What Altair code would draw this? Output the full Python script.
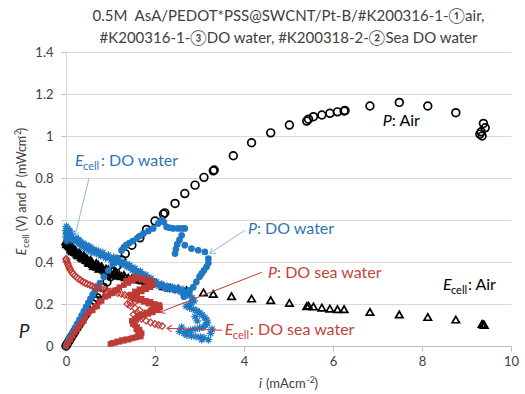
import altair as alt
import pandas as pd

FONT = "Lato"
BLUE = "#1F78C4"
BLUE_TXT = "#2E75B6"
BLUE_LINE = "#8DB8E2"
RED = "#BE3A34"
RED_TXT = "#C0443C"
BLACK = "#000000"
GRAY_TXT = "#404040"

title_lines = ["0.5M\u00a0 AsA/PEDOT*PSS@SWCNT/Pt-B/#K200316-1-\u2460air,",
               "#K200316-1-\u2462DO water, #K200318-2-\u2461Sea DO water"]
x_ticks = [0, 2, 4, 6, 8, 10]
y_ticks = [0, 0.2, 0.4, 0.6, 0.8, 1.0, 1.2, 1.4]

# P: Air  (i, P)
p_air = [(0,0),(0.02,0.007),(0.05,0.018),(0.08,0.028),(0.12,0.042),(0.16,0.056),(0.2,0.07),
         (0.25,0.087),(0.3,0.103),(0.35,0.12),(0.4,0.137),(0.45,0.153),(0.5,0.17),(0.55,0.186),
         (0.6,0.2),(0.65,0.215),(0.7,0.23),(0.76,0.25),(0.84,0.28),(0.92,0.305),(1.0,0.33),
         (1.07,0.355),(1.14,0.38),(1.25,0.41),(1.33,0.44),(1.48,0.48),(1.66,0.515),(1.81,0.555),
         (2.0,0.595),(2.19,0.628),(2.22,0.634),(2.45,0.679),(2.67,0.726),(2.9,0.766),(3.1,0.803),
         (3.31,0.834),(3.33,0.838),(3.76,0.906),(4.17,0.968),(4.6,1.015),(5.02,1.052),(5.41,1.071),
         (5.45,1.08),(5.56,1.092),(5.75,1.1),(5.93,1.108),(6.1,1.115),(6.25,1.119),(6.27,1.121),
         (6.83,1.143),(7.49,1.16),(8.13,1.143),(8.76,1.111),(9.38,1.06),(9.42,1.039),(9.33,1.02),
         (9.3,1.009),(9.35,1.0)]

# E_cell: Air  (i, E)
e_air = [(0,0.5),(0.01,0.497),(0.02,0.492),(0.03,0.5),(0.04,0.486),(0.06,0.48),(0.07,0.49),
         (0.08,0.475),(0.1,0.47),(0.13,0.463),(0.15,0.47),(0.16,0.456),(0.2,0.448),(0.22,0.455),
         (0.25,0.44),(0.3,0.432),(0.3,0.445),(0.35,0.424),(0.4,0.417),(0.42,0.425),(0.45,0.41),
         (0.5,0.403),(0.55,0.396),(0.55,0.41),(0.6,0.39),(0.65,0.384),(0.68,0.395),(0.7,0.378),
         (0.76,0.372),(0.8,0.38),(0.84,0.364),(0.92,0.356),(0.95,0.365),(1.0,0.35),(1.07,0.345),
         (1.1,0.35),(1.14,0.34),(1.2,0.34),(1.25,0.333),(1.33,0.328),(1.48,0.322),(1.66,0.316),
         (1.81,0.31),(1.93,0.305),(2.0,0.3),(2.19,0.285),(2.34,0.278),(2.52,0.272),(2.71,0.265),
         (3.09,0.255),(3.31,0.248),(3.72,0.237),(4.17,0.226),(4.6,0.218),(5.02,0.205),(5.41,0.19),
         (5.45,0.192),(5.56,0.188),(5.75,0.183),(5.93,0.178),(6.1,0.175),(6.25,0.175),(6.83,0.162),
         (7.49,0.15),(8.13,0.138),(8.76,0.126),(9.35,0.105),(9.38,0.103),(9.4,0.1),
         (0.015,0.485),(0.05,0.495),(0.09,0.482),(0.11,0.46),(0.14,0.452),(0.18,0.462),
         (0.23,0.445),(0.27,0.432),(0.32,0.438),(0.37,0.42),(0.39,0.43),(0.47,0.418),(0.52,0.395),
         (0.58,0.403),(0.62,0.38),(0.72,0.388),(0.74,0.368),(0.82,0.37),(0.88,0.358),(0.9,0.368),
         (0.98,0.355),(1.03,0.34),(1.17,0.335),(1.3,0.338),(1.4,0.325),(1.55,0.32),(1.72,0.312)]

# E_cell: DO water  (i, E)
e_do = [(0.0,0.55),(0.0,0.52),(0.01,0.57),(0.02,0.54),(0.02,0.5),(0.03,0.56),(0.04,0.52),
        (0.05,0.545),(0.07,0.53),(0.09,0.54),(0.12,0.525),(0.15,0.515),(0.18,0.52),(0.21,0.505),
        (0.25,0.5),(0.28,0.505),(0.32,0.49),(0.36,0.485),(0.4,0.48),(0.44,0.475),(0.48,0.468),
        (0.52,0.47),(0.56,0.46),(0.6,0.455),(0.65,0.45),(0.7,0.447),(0.75,0.44),(0.8,0.437),
        (0.86,0.43),(0.92,0.425),(0.98,0.42),(1.04,0.415),(1.1,0.41),(1.16,0.405),(1.22,0.4),
        (1.28,0.395),(1.34,0.388),(1.4,0.38),(1.46,0.372),(1.52,0.365),(1.58,0.357),(1.64,0.35),
        (1.7,0.342),(1.76,0.333),(1.82,0.325),(1.88,0.318),(1.94,0.31),(2.0,0.303),(2.06,0.296),
        (2.12,0.29),(2.18,0.286),(2.24,0.282),(2.3,0.279),(2.36,0.276),(2.42,0.273),(2.48,0.27),
        (2.54,0.268),(2.6,0.265),(2.66,0.26),(2.72,0.25),(2.78,0.24),(2.84,0.228),(2.88,0.215),
        (2.82,0.205),(2.76,0.195),(2.7,0.19),(2.78,0.182),(2.86,0.175),(2.94,0.168),(3.0,0.158),
        (2.9,0.14),(2.95,0.12),(3.06,0.148),(3.12,0.135),(3.16,0.123),(3.18,0.11),(3.28,0.08),
        (3.14,0.1),(3.08,0.09),(3.0,0.085),(2.9,0.08),(2.8,0.075),(2.7,0.07),(2.6,0.09),
        (2.55,0.07),(2.65,0.06),(2.72,0.052),(2.82,0.048),(2.92,0.045),(3.02,0.042),(3.1,0.04),
        (3.25,0.06),(3.2,0.03),(3.05,0.03),
        (0.01,0.535),(0.03,0.51),(0.06,0.51),(0.08,0.55),(0.1,0.515),(0.14,0.535),(0.17,0.5),
        (0.23,0.515),(0.27,0.49),(0.3,0.5),(0.34,0.475),(0.38,0.49),(0.42,0.465),(0.46,0.48),
        (0.5,0.455),(0.54,0.472),(0.58,0.447),(0.63,0.46),(0.68,0.44),(0.73,0.452),(0.78,0.43),
        (0.83,0.445),(0.89,0.42),(0.95,0.433),(1.01,0.41),(1.07,0.422),(1.13,0.398),(1.19,0.41),
        (1.25,0.388),(1.31,0.4),(1.37,0.378),(1.43,0.385),(1.49,0.362),(1.55,0.37),(1.61,0.345),
        (1.67,0.355),(1.73,0.33),(1.79,0.338),(1.85,0.315),(1.91,0.322),(1.97,0.3),(2.03,0.305),
        (2.09,0.285),(2.15,0.295),(2.21,0.275),(2.27,0.285),(2.33,0.27),(2.39,0.28),(2.45,0.265),
        (2.51,0.275),(2.57,0.258),(2.63,0.27)]

# P: DO water  (i, P)
p_do = [(0,0),(0.03,0.015),(0.06,0.03),(0.1,0.045),(0.15,0.065),(0.2,0.085),(0.25,0.105),
        (0.3,0.125),(0.35,0.145),(0.4,0.165),(0.45,0.185),(0.5,0.205),(0.55,0.225),(0.6,0.245),
        (0.65,0.262),(0.7,0.28),(0.76,0.3),(0.85,0.33),(0.95,0.36),(1.05,0.39),(1.15,0.42),
        (1.25,0.455),(1.3,0.47),(1.35,0.48),(1.42,0.49),(1.5,0.5),(1.59,0.512),(1.67,0.525),
        (1.74,0.536),(1.85,0.548),(1.96,0.56),(2.07,0.583),(2.15,0.6),(2.2,0.59),(2.26,0.567),
        (2.33,0.563),(2.41,0.56),(2.52,0.56),(2.6,0.56),(2.67,0.56),(2.6,0.527),(2.55,0.505),
        (2.5,0.485),(2.47,0.462),(2.45,0.44),(2.67,0.48),(2.82,0.464),(2.97,0.456),(3.12,0.448),
        (3.2,0.416),(3.2,0.395),(3.16,0.377),(3.1,0.36),(3.05,0.345),(3.0,0.33),(2.93,0.305),
        (2.86,0.28),(2.78,0.265),(2.71,0.25),(2.65,0.235)]

# E_cell: DO sea water  (i, E)
e_sea = [(0,0.415),(0.01,0.41),(0.02,0.4),(0.04,0.39),(0.06,0.38),(0.08,0.37),(0.1,0.362),
         (0.13,0.352),(0.16,0.343),(0.2,0.335),(0.24,0.327),(0.28,0.32),(0.33,0.313),(0.38,0.306),
         (0.43,0.3),(0.48,0.295),(0.54,0.29),(0.6,0.285),(0.66,0.28),(0.72,0.276),(0.78,0.272),
         (0.85,0.268),(0.92,0.264),(1.0,0.26),(1.08,0.256),(1.16,0.252),(1.24,0.248),(1.32,0.243),
         (1.4,0.238),(1.48,0.232),(1.56,0.226),(1.62,0.22),(1.55,0.212),(1.45,0.205),(1.38,0.2),
         (1.45,0.19),(1.55,0.18),(1.65,0.17),(1.6,0.16),(1.52,0.15),(1.6,0.14),(1.7,0.13),
         (1.8,0.12),(1.9,0.112),(2.0,0.105),(2.08,0.1),(2.16,0.095)]

# P: DO sea water  (i, P)
p_sea = [(0,0),(0.05,0.015),(0.1,0.03),(0.15,0.048),(0.2,0.065),(0.25,0.08),(0.3,0.095),
         (0.35,0.11),(0.43,0.138),(0.5,0.155),(0.55,0.17),(0.65,0.186),(0.75,0.21),(0.88,0.234),
         (1.0,0.25),(1.1,0.265),(1.2,0.28),(1.3,0.29),(1.4,0.3),(1.5,0.31),(1.6,0.32),(1.7,0.315),
         (1.8,0.31),(1.9,0.3),(1.96,0.29),(1.9,0.28),(1.8,0.27),(1.7,0.26),(1.6,0.25),(1.5,0.235),
         (1.55,0.225),(1.65,0.218),(1.75,0.21),(1.85,0.202),(1.95,0.195),(2.05,0.19),(2.11,0.185),
         (2.05,0.17),(1.95,0.16),(1.85,0.153),(1.75,0.145),(1.66,0.138),(1.58,0.125),(1.52,0.114),
         (1.55,0.1),(1.6,0.09),(1.65,0.078),(1.66,0.067),(1.62,0.055),(1.59,0.043),(1.5,0.038),
         (1.4,0.03),(1.3,0.025),(1.2,0.02),(1.1,0.015),(1.0,0.01),
         (0.4,0.12),(0.6,0.17),(0.7,0.19),(0.8,0.215),(0.95,0.24),(1.05,0.255),(1.15,0.268),
         (1.35,0.31),(1.45,0.32),(1.55,0.33),(1.65,0.325),(1.75,0.322),(1.85,0.315),(1.92,0.31),
         (1.85,0.29),(1.75,0.28),(1.65,0.27),(1.55,0.26),(1.45,0.245),(1.6,0.23),(1.7,0.225),
         (1.8,0.215),(1.9,0.21),(2.0,0.2),(2.1,0.195),(2.0,0.18),(1.9,0.17),(1.8,0.16),(1.7,0.15),
         (1.62,0.145),(1.55,0.13),(1.48,0.12),(1.5,0.105),(1.58,0.08),(1.7,0.06),(1.68,0.045),
         (1.55,0.04),(1.45,0.035),(1.35,0.032),(1.25,0.028),(1.15,0.022),(1.05,0.015)]

xs = alt.Scale(domain=[0, 10], nice=False, zero=False)
ys = alt.Scale(domain=[0, 1.4], nice=False, zero=False)
x_axis = alt.Axis(values=x_ticks, title=None, grid=False, domainColor="#BFBFBF",
                  tickColor="#BFBFBF", tickSize=5, labelFont=FONT, labelFontSize=13,
                  labelColor=GRAY_TXT, labelPadding=4, labelFlush=False)
y_axis = alt.Axis(values=y_ticks, title=None, grid=True, gridColor="#D9D9D9",
                  domainColor="#D9D9D9", tickColor="#BFBFBF", tickSize=5, labelFont=FONT,
                  labelFontSize=13, labelColor=GRAY_TXT, labelPadding=8, format="~g")
X = alt.X("x:Q", scale=xs, axis=x_axis)
Y = alt.Y("y:Q", scale=ys, axis=y_axis)


def frame(pairs):
    return pd.DataFrame(pairs, columns=["x", "y"])


ASTER = "M-1,0L1,0M0,-1L0,1M-0.7,-0.7L0.7,0.7M-0.7,0.7L0.7,-0.7"
CHEV = "M-1,-0.7L0,0L-1,0.7"

layers = []
layers.append(alt.Chart(frame(p_air)).mark_point(shape="circle", filled=False, color=BLACK,
                                                  size=60, strokeWidth=1.7, opacity=1).encode(x=X, y=Y))
layers.append(alt.Chart(frame(e_air)).mark_point(shape="triangle-up", filled=False, color=BLACK,
                                                  size=55, strokeWidth=1.7, opacity=1).encode(x=X, y=Y))
layers.append(alt.Chart(frame(e_do)).mark_point(shape=ASTER, filled=False, color=BLUE,
                                                 size=60, strokeWidth=1.3, opacity=1).encode(x=X, y=Y))
layers.append(alt.Chart(frame(p_do)).mark_point(shape="circle", filled=True, color=BLUE,
                                                 size=45, opacity=1).encode(x=X, y=Y))
layers.append(alt.Chart(frame(e_sea)).mark_point(shape="diamond", filled=False, color=RED,
                                                  size=45, strokeWidth=1.2, opacity=1).encode(x=X, y=Y))
layers.append(alt.Chart(frame(p_sea)).mark_point(shape="square", filled=True, color=RED,
                                                  size=32, opacity=1).encode(x=X, y=Y))


def leader(x1, y1, x2, y2, color, angle=None):
    d = pd.DataFrame({"x": [x1], "y": [y1], "x2": [x2], "y2": [y2]})
    out = [alt.Chart(d).mark_rule(color=color, strokeWidth=1).encode(x=X, y=Y, x2="x2:Q", y2="y2:Q")]
    if angle is not None:
        t = pd.DataFrame({"x": [x2], "y": [y2]})
        out.append(alt.Chart(t).mark_point(shape=CHEV, filled=False, color=color, size=90,
                                           strokeWidth=1, angle=angle, opacity=1).encode(x=X, y=Y))
    return out


layers += leader(0.517, 0.798, 0.2, 0.523, BLUE_LINE, 104)
layers += leader(4.02, 0.551, 3.236, 0.442, BLUE_LINE, 147)
layers += leader(4.40, 0.351, 2.11, 0.161, RED, 159)
layers += leader(3.51, 0.075, 2.27, 0.084, RED, 182)


def txt(x, y, s, dx=0, dy=0, size=16, color=BLACK, italic=False, angle=None):
    kw = dict(align="left", baseline="alphabetic", dx=dx, dy=dy, fontSize=size,
              color=color, font=FONT)
    if italic:
        kw["fontStyle"] = "italic"
    if angle is not None:
        kw["angle"] = angle
    d = pd.DataFrame({"x": [x], "y": [y], "t": [s]})
    return alt.Chart(d).mark_text(**kw).encode(x=X, y=Y, text="t:N")


# E_cell: DO water
layers += [txt(0.202, 0.857, "E", 0, 0, 16, BLUE_TXT, True),
           txt(0.202, 0.857, "cell", 8, 4, 11, BLUE_TXT),
           txt(0.202, 0.857, ": DO water", 26, 0, 16, BLUE_TXT)]
# P: DO water
layers += [txt(4.09, 0.532, "P", 0, 0, 16, BLUE_TXT, True),
           txt(4.09, 0.532, ": DO water", 9, 0, 16, BLUE_TXT)]
# P: DO sea water
layers += [txt(4.54, 0.323, "P", 0, 0, 16, RED_TXT, True),
           txt(4.54, 0.323, ": DO sea water", 9, 0, 16, RED_TXT)]
# E_cell: DO sea water
layers += [txt(3.57, 0.051, "E", 0, 0, 16, RED_TXT, True),
           txt(3.57, 0.051, "cell", 8, 4, 11, RED_TXT),
           txt(3.57, 0.051, ": DO sea water", 25, 0, 16, RED_TXT)]
# P: Air
layers += [txt(7.12, 1.047, "P", 0, 0, 16, BLACK, True),
           txt(7.12, 1.047, ": Air", 9, 0, 16, BLACK)]
# E_cell: Air
layers += [txt(8.47, 0.265, "E", 0, 0, 16, BLACK, True),
           txt(8.47, 0.265, "cell", 8, 4, 11, BLACK),
           txt(8.47, 0.265, ": Air", 25, 0, 16, BLACK)]
# big P at left
layers += [txt(-1.06, 0.04, "P", 0, 0, 19, "#222222", True)]

# y-axis title (rotated pieces)
YT = (-0.899, 0.432)
layers += [txt(*YT, "E", 0, 0, 12.5, GRAY_TXT, True, 270),
           txt(*YT, "cell", 7.5, 3, 9, GRAY_TXT, False, 270),
           txt(*YT, "(V) and", 24, 0, 12.5, GRAY_TXT, False, 270),
           txt(*YT, "P", 67, 0, 12.5, GRAY_TXT, True, 270),
           txt(*YT, "(mWcm", 78, 0, 12.5, GRAY_TXT, False, 270),
           txt(*YT, "-2", 117, -5, 8.5, GRAY_TXT, False, 270),
           txt(*YT, ")", 124, 0, 12.5, GRAY_TXT, False, 270)]

# x-axis title
XT = (4.337, -0.2016)
layers += [txt(*XT, "i", 0, 0, 13, GRAY_TXT, True),
           txt(*XT, "(mAcm", 7, 0, 13, GRAY_TXT),
           txt(*XT, "-2", 47.5, -5, 9, GRAY_TXT),
           txt(*XT, ")", 55.5, 0, 13, GRAY_TXT)]

chart = alt.layer(*layers).properties(
    width=445, height=294,
    autosize=alt.AutoSizeParams(type="none"),
    padding={"left": 66, "top": 52, "right": 14, "bottom": 48},
    title=alt.TitleParams(text=title_lines, fontSize=15, font=FONT, color=GRAY_TXT,
                          fontWeight="normal", anchor="middle", offset=0, lineHeight=22),
    background="white",
).configure_view(stroke=None)

chart.save("out.html", embed_options={"renderer": "svg", "actions": False})
